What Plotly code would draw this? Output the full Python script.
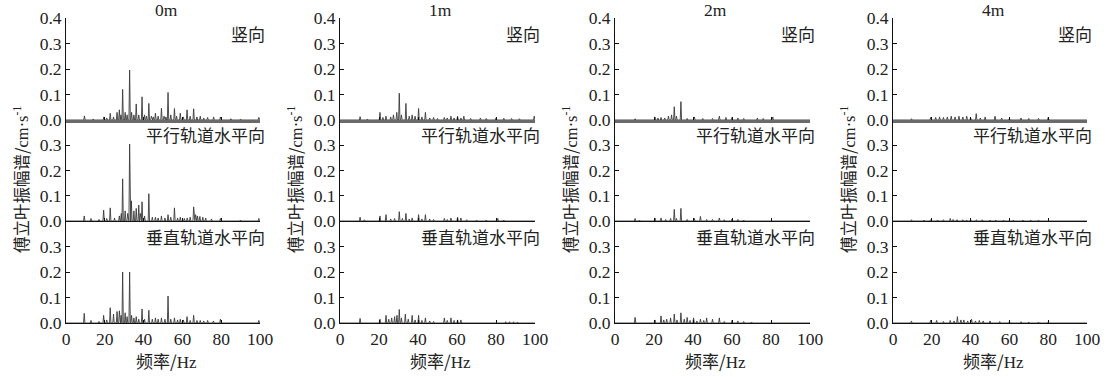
import plotly.graph_objects as go
from plotly.subplots import make_subplots

W, H = 1116, 377

distances = ["0m", "1m", "2m", "4m"]
directions = ["竖向", "平行轨道水平向", "垂直轨道水平向"]
x_ticks = [0, 20, 40, 60, 80, 100]
y_ticks_top = [0.0, 0.1, 0.2, 0.3, 0.4]
y_ticks_low = [0.0, 0.1, 0.2, 0.3]
y_title = "傅立叶振幅谱/<span style='font-family:Liberation Serif'>cm·s<sup>-1</sup></span>"
x_title = "频率/<span style='font-family:Liberation Serif'>Hz</span>"

# ---- peak frequencies (Hz) and amplitudes (cm/s) ----
f_0m_v = [9.5, 14, 19.5, 21, 22.8, 24.5, 26.3, 27.5, 28.3, 29.2, 30.5, 31.5, 32.8, 33.8, 35, 36.2, 37.5, 39.2, 40.5, 41.5, 42.7, 44, 45, 46.1, 47.5, 49.2, 50.5, 51.5, 52.6, 54, 55.9, 57, 58.9, 60.5, 62.4, 64, 65.8, 67.5, 69.2, 71, 73, 76.1, 79.6, 85, 90, 99.4]
a_0m_v = [0.016, 0.004, 0.012, 0.008, 0.026, 0.012, 0.03, 0.04, 0.02, 0.12, 0.03, 0.02, 0.196, 0.03, 0.02, 0.063, 0.02, 0.091, 0.02, 0.015, 0.065, 0.015, 0.012, 0.027, 0.015, 0.046, 0.015, 0.012, 0.108, 0.02, 0.045, 0.015, 0.027, 0.012, 0.04, 0.015, 0.044, 0.012, 0.015, 0.008, 0.01, 0.012, 0.012, 0.005, 0.004, 0.01]

f_0m_p = [9.4, 12.9, 17, 19.4, 21, 22.8, 25, 27.5, 28.5, 29.2, 30.5, 31.8, 32.8, 33.7, 35, 36.2, 37.5, 38.3, 39.2, 40.5, 42.7, 44.5, 46.1, 47.5, 49.2, 51, 52.6, 54, 55.9, 57.5, 58.9, 61, 62.5, 64, 65.8, 66.8, 67.8, 69, 70.5, 72, 75, 79.6, 90, 99.4]
a_0m_p = [0.02, 0.01, 0.006, 0.043, 0.01, 0.052, 0.012, 0.02, 0.03, 0.167, 0.04, 0.03, 0.305, 0.08, 0.04, 0.05, 0.063, 0.03, 0.076, 0.02, 0.108, 0.015, 0.015, 0.012, 0.02, 0.012, 0.025, 0.015, 0.052, 0.012, 0.015, 0.01, 0.012, 0.015, 0.056, 0.025, 0.02, 0.018, 0.015, 0.012, 0.008, 0.01, 0.004, 0.01]

f_0m_t = [9.4, 12.9, 17, 19.4, 21, 22.8, 24.5, 26.3, 27.5, 28.4, 29.2, 30.5, 31.5, 32.8, 33.8, 35, 36.2, 37.5, 39.2, 40.5, 42.7, 44.5, 46.1, 47.5, 49.2, 51, 52.6, 54, 55.9, 57.5, 58.9, 60.5, 62.4, 64, 65.8, 67.5, 69.2, 71, 73, 76, 79.6, 99.4]
a_0m_t = [0.038, 0.01, 0.006, 0.03, 0.012, 0.06, 0.035, 0.045, 0.048, 0.03, 0.2, 0.04, 0.025, 0.2, 0.03, 0.02, 0.025, 0.015, 0.055, 0.015, 0.05, 0.015, 0.02, 0.015, 0.02, 0.015, 0.106, 0.015, 0.02, 0.012, 0.015, 0.012, 0.025, 0.01, 0.03, 0.01, 0.01, 0.008, 0.01, 0.008, 0.015, 0.01]

f_1m_v = [10.3, 14, 20.5, 22, 23.6, 26, 27.4, 29.1, 30.4, 31.5, 33.8, 35.5, 37, 38.5, 40.3, 42, 43.8, 46, 48, 50, 53.5, 55, 56.9, 58.5, 60.3, 62, 63.5, 67, 72, 75, 80, 84, 88, 92, 99.6]
a_1m_v = [0.013, 0.004, 0.03, 0.01, 0.015, 0.012, 0.02, 0.03, 0.105, 0.02, 0.065, 0.015, 0.02, 0.015, 0.045, 0.012, 0.03, 0.008, 0.01, 0.006, 0.01, 0.008, 0.015, 0.008, 0.015, 0.008, 0.015, 0.006, 0.008, 0.006, 0.008, 0.007, 0.006, 0.005, 0.015]

f_1m_p = [10.3, 12.5, 20.5, 23.6, 26, 28, 30.4, 32, 33.8, 35.5, 37, 40.3, 42, 43.8, 46, 48, 53.5, 55, 56.9, 60.3, 62, 65, 70, 75, 80.9, 84]
a_1m_p = [0.015, 0.005, 0.02, 0.025, 0.008, 0.01, 0.037, 0.01, 0.03, 0.008, 0.012, 0.025, 0.008, 0.025, 0.008, 0.006, 0.01, 0.006, 0.012, 0.015, 0.012, 0.005, 0.004, 0.004, 0.01, 0.004]

f_1m_t = [10.3, 20.5, 23.6, 25, 26.5, 28, 29.2, 30.4, 31.5, 33.5, 35, 37, 38.5, 40.3, 42, 43.8, 46, 48, 53.5, 55, 56.9, 58.5, 60.3, 62, 85, 87, 89, 91]
a_1m_t = [0.018, 0.015, 0.03, 0.015, 0.02, 0.025, 0.03, 0.053, 0.02, 0.035, 0.015, 0.03, 0.012, 0.03, 0.01, 0.02, 0.008, 0.006, 0.02, 0.01, 0.02, 0.01, 0.012, 0.012, 0.005, 0.005, 0.005, 0.004]

f_2m_v = [10.3, 20.5, 22, 23.6, 25.5, 27.4, 29, 30.4, 31.5, 33.8, 37, 40.7, 45, 50, 53.5, 56.9, 60, 63, 66, 73, 76, 80.9]
a_2m_v = [0.005, 0.012, 0.008, 0.01, 0.008, 0.015, 0.02, 0.052, 0.015, 0.072, 0.006, 0.012, 0.006, 0.006, 0.015, 0.01, 0.01, 0.008, 0.006, 0.008, 0.006, 0.012]

f_2m_p = [10.3, 12.5, 20.5, 23.6, 26, 28.5, 30.4, 31.5, 33.8, 37, 40.7, 43.8, 47, 50, 53.5, 56, 60, 63, 66]
a_2m_p = [0.01, 0.004, 0.012, 0.012, 0.006, 0.01, 0.046, 0.01, 0.05, 0.006, 0.01, 0.018, 0.006, 0.006, 0.012, 0.005, 0.008, 0.006, 0.004]

f_2m_t = [10.3, 20.5, 23.6, 25, 26.5, 28.5, 30.4, 31.8, 33.8, 35.5, 37, 38.5, 40.3, 42, 43.8, 45.5, 47, 50, 53.5, 56, 60, 63, 66, 70]
a_2m_t = [0.022, 0.012, 0.028, 0.012, 0.015, 0.02, 0.035, 0.012, 0.04, 0.015, 0.022, 0.01, 0.02, 0.008, 0.015, 0.01, 0.02, 0.015, 0.02, 0.006, 0.01, 0.008, 0.006, 0.004]

f_4m_v = [9.5, 19.4, 22, 24, 26, 28, 30, 32, 34, 36, 38, 40, 42.9, 45, 47.5, 52.6, 56, 60, 66, 70, 75, 80]
a_4m_v = [0.005, 0.01, 0.01, 0.012, 0.01, 0.012, 0.015, 0.012, 0.015, 0.012, 0.015, 0.01, 0.025, 0.008, 0.012, 0.015, 0.008, 0.006, 0.008, 0.006, 0.006, 0.01]

f_4m_p = [9.5, 16, 19.4, 23, 26, 29.5, 31, 33, 36, 38, 40, 43, 46, 50, 53, 57, 62, 67, 71, 75]
a_4m_p = [0.005, 0.004, 0.005, 0.004, 0.005, 0.01, 0.006, 0.005, 0.005, 0.004, 0.006, 0.005, 0.005, 0.004, 0.004, 0.004, 0.004, 0.004, 0.004, 0.004]

f_4m_t = [9.5, 19.4, 22.5, 26, 29.5, 31.5, 33.2, 35, 36.5, 38.5, 40.5, 42.5, 44.5, 46.5, 50, 55, 60, 66, 70, 75, 80]
a_4m_t = [0.008, 0.01, 0.01, 0.006, 0.01, 0.008, 0.025, 0.012, 0.012, 0.008, 0.015, 0.008, 0.01, 0.008, 0.008, 0.006, 0.006, 0.005, 0.004, 0.004, 0.004]

series = [
    [(f_0m_v, a_0m_v), (f_0m_p, a_0m_p), (f_0m_t, a_0m_t)],
    [(f_1m_v, a_1m_v), (f_1m_p, a_1m_p), (f_1m_t, a_1m_t)],
    [(f_2m_v, a_2m_v), (f_2m_p, a_2m_p), (f_2m_t, a_2m_t)],
    [(f_4m_v, a_4m_v), (f_4m_p, a_4m_p), (f_4m_t, a_4m_t)],
]

# ---- layout geometry (screen pixels) ----
col_px = [(66, 260), (340, 535), (615, 810), (893, 1087)]
row_px = [(18, 120), (120, 221), (221, 323)]


def px_x(p):
    return p / W


def px_y(p):
    return 1 - p / H


NUM_FONT = "Liberation Serif, Times New Roman, serif"
CJK_FONT = "Noto Sans CJK SC"

fig = make_subplots(rows=3, cols=4)


def spikes(freqs, amps, hw=0.35):
    xs, ys = [0], [0]
    for f, a in sorted(zip(freqs, amps)):
        xs += [f - hw, f, f + hw]
        ys += [0, a, 0]
    xs.append(100)
    ys.append(0)
    return xs, ys


for c in range(4):
    for r in range(3):
        fr, am = series[c][r]
        assert len(fr) == len(am)
        xs, ys = spikes(fr, am)
        fig.add_trace(go.Scatter(x=xs, y=ys, mode="lines",
                                 line=dict(color="#3a3a3a", width=0.9),
                                 showlegend=False, hoverinfo="skip"),
                      row=r + 1, col=c + 1)

annotations = []
for r in range(3):
    for c in range(4):
        n = r * 4 + c + 1
        xa = "xaxis" if n == 1 else f"xaxis{n}"
        ya = "yaxis" if n == 1 else f"yaxis{n}"
        x0, x1 = col_px[c]
        y0, y1 = row_px[r]
        top_row = r == 0
        fig.layout[xa].update(
            domain=[px_x(x0), px_x(x1)], range=[0, 100], automargin=False,
            showline=True,
            linecolor="#6a6a6a" if top_row else "#111",
            linewidth=2.5 if top_row else 1,
            ticks="inside", ticklen=3, tickcolor="#111",
            tickvals=x_ticks, showticklabels=(r == 2),
            showgrid=False, zeroline=False,
            tickfont=dict(family=NUM_FONT, size=17.5, color="#222"),
            fixedrange=True,
        )
        fig.layout[ya].update(
            domain=[px_y(y1), px_y(y0)], range=[0, 0.4], automargin=False,
            showline=True, linecolor="#111", linewidth=1,
            ticks="inside", ticklen=4, tickcolor="#111",
            tickvals=y_ticks_top if top_row else y_ticks_low,
            tickformat=".1f",
            showgrid=False, zeroline=False,
            tickfont=dict(family=NUM_FONT, size=17.5, color="#222"),
            fixedrange=True,
        )
        annotations.append(dict(
            text=directions[r], xref="paper", yref="paper",
            x=px_x(x1 + 7), y=px_y(y0 + 15),
            xanchor="right", yanchor="middle", showarrow=False,
            font=dict(family=CJK_FONT, size=17, color="#222")))

for c in range(4):
    x0, x1 = col_px[c]
    cx = (x0 + x1) / 2 + 3
    annotations.append(dict(
        text=distances[c], xref="paper", yref="paper",
        x=px_x(cx), y=px_y(10), xanchor="center", yanchor="middle",
        showarrow=False, font=dict(family=NUM_FONT, size=17.5, color="#222")))
    annotations.append(dict(
        text=x_title, xref="paper", yref="paper",
        x=px_x(cx), y=px_y(360), xanchor="center", yanchor="middle",
        showarrow=False, font=dict(family=CJK_FONT, size=17, color="#222")))
    annotations.append(dict(
        text=y_title, xref="paper", yref="paper",
        x=px_x(x0 - 45), y=px_y(180), xanchor="center", yanchor="middle",
        textangle=-90, showarrow=False,
        font=dict(family=CJK_FONT, size=16.5, color="#222")))

fig.update_layout(
    template="none",
    width=W, height=H,
    margin=dict(l=0, r=0, t=0, b=0),
    paper_bgcolor="white", plot_bgcolor="white",
    annotations=annotations,
    showlegend=False,
)

fig.write_html("out.html", config={"displayModeBar": False},
               post_script="document.body.style.margin='0';document.body.style.padding='0';")
